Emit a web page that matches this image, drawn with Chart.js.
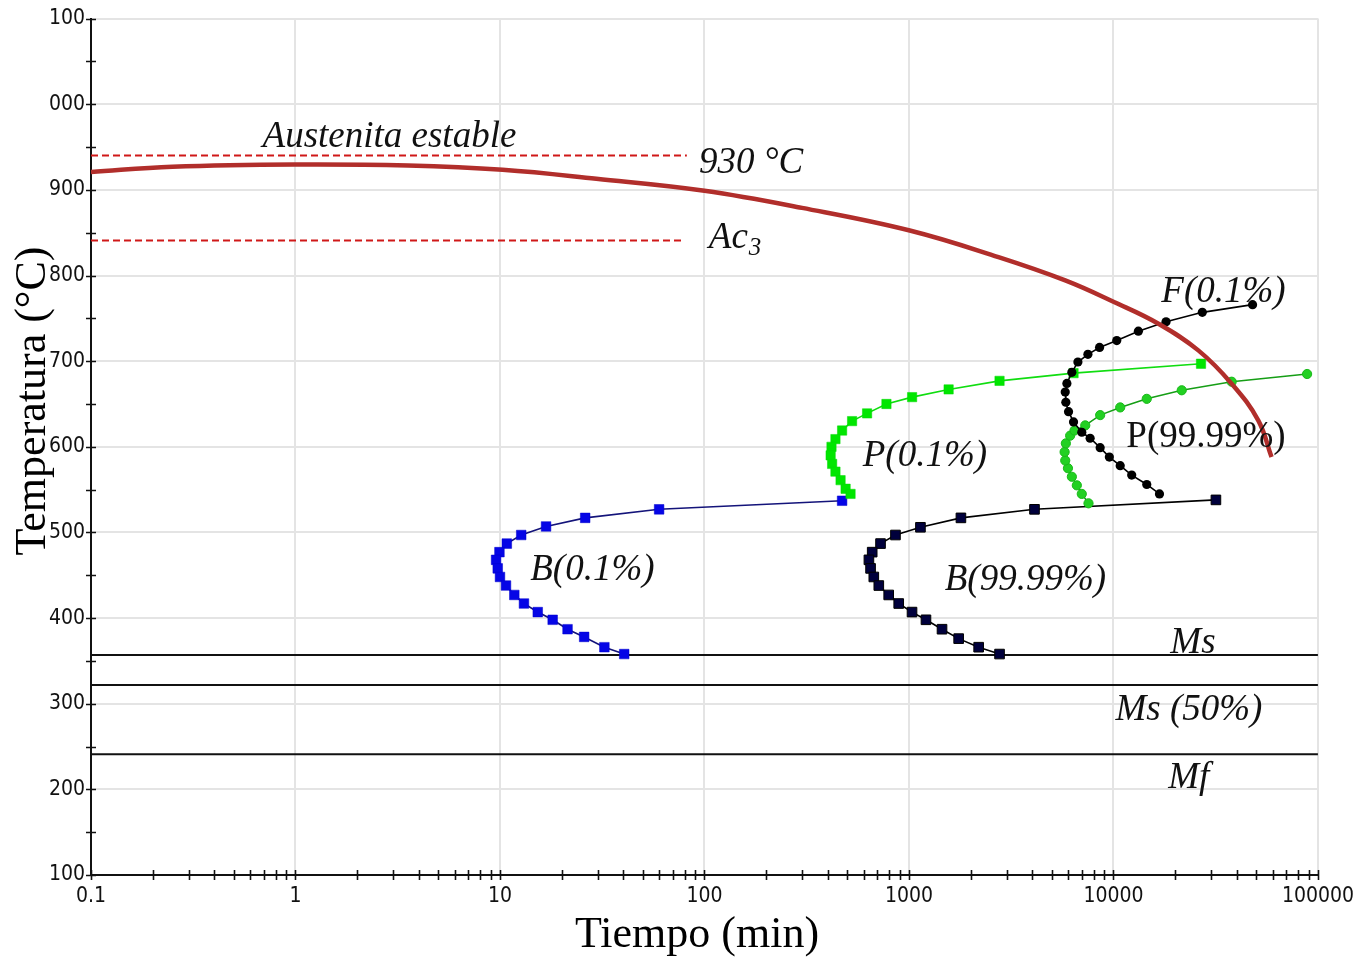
<!DOCTYPE html>
<html><head><meta charset="utf-8">
<script src="https://cdn.jsdelivr.net/npm/chart.js@4/dist/chart.umd.min.js"></script>
<style>html,body{margin:0;padding:0;background:#fff;}#wrap{width:1363px;height:958px;position:relative;}</style>
</head><body><div id="wrap"><canvas id="c" width="1363" height="958"></canvas></div>
<script>
// ---- axis ticks ----
const xTickValues = [0.1, 1, 10, 100, 1000, 10000, 100000];
const xTickLabels = ['0.1', '1', '10', '100', '1000', '10000', '100000'];
const yTickValues = [100, 200, 300, 400, 500, 600, 700, 800, 900, 1000, 1100];
const yTickLabels = ['100', '200', '300', '400', '500', '600', '700', '800', '900', '000', '100'];

// ---- heating / austenitization curve (red) ----
const heatTime = [0.1, 0.25, 0.99, 3.55, 10.3, 29.6, 100, 300, 1009, 2740, 5810, 10120, 16600, 26000, 37840, 51050, 59300];
const heatTemp = [921, 927, 929.7, 928.5, 923.5, 913, 899, 879, 852.6, 821.5, 794.3, 768.8, 743.7, 712.6, 673.7, 630.9, 588];

// ---- reference lines ----
const lineT930 = 940, lineT930End = 82;
const lineAc3 = 841, lineAc3End = 79;
const msTemp = 357, ms50Temp = 322, mfTemp = 241;

// ---- ferrite start F(0.1%) ----
const f01Time = [47900, 27200, 18080, 13240, 10380, 8550, 7500, 6700, 6260, 5920, 5810, 5850, 6030, 6380, 7000, 7690, 8610, 9550, 10790, 12280, 14550, 16790];
const f01Temp = [766, 757, 746, 735, 724, 716, 708, 699, 687, 674, 664, 652, 641, 629, 617, 610, 599, 588, 578, 567, 556, 545];

// ---- pearlite start P(0.1%) ----
const p01Time = [26800, 6380, 2773, 1563, 1036, 776, 624, 527, 471, 437, 418, 414, 421, 437, 463, 490, 518];
const p01Temp = [697, 686, 677, 667, 658, 650, 639, 630, 619, 609, 600, 590, 580, 571, 561, 551, 545];

// ---- pearlite finish P(99.99%) ----
const p99Time = [7550, 7000, 6620, 6260, 5990, 5810, 5770, 5850, 6140, 6450, 7280, 8610, 10790, 14550, 21570, 37850, 88500];
const p99Temp = [534, 545, 555, 565, 575, 584, 594, 604, 613, 619, 625, 637, 646, 656, 666, 676, 685];

// ---- bainite start B(0.1%) ----
const b01Time = [471, 60, 26.1, 16.8, 12.7, 10.8, 9.94, 9.57, 9.75, 10.0, 10.7, 11.75, 13.1, 15.3, 18.1, 21.4, 25.8, 32.4, 40.5];
const b01Temp = [537, 527, 517, 507, 497, 487, 477, 468, 458, 448, 438, 427, 417, 407, 398, 387, 378, 366, 358];

// ---- bainite finish B(99.99%) ----
const b99Time = [31700, 4110, 1795, 1138, 859, 726, 661, 637, 649, 673, 712, 796, 891, 1035, 1211, 1451, 1750, 2192, 2773];
const b99Temp = [538, 527, 517, 506, 497, 487, 477, 468, 458, 448, 438, 427, 417, 407, 398, 387, 376, 366, 358];

// ---- annotation labels (anchored in data coordinates: left / baseline) ----
const labelTexts = ['Austenita estable', '930 °C', 'F(0.1%)', 'P(0.1%)', 'P(99.99%)', 'B(0.1%)', 'B(99.99%)', 'Ms', 'Ms (50%)', 'Mf'];
const labelTime  = [0.69, 94, 17140, 594, 11560, 14.06, 1496, 18970, 10230, 18530];
const labelTemp  = [950, 920, 768.6, 577, 599.4, 444.2, 432.6, 359, 280.9, 201.5];
const labelItalic = [true, true, true, true, false, true, true, true, true, true];
const ac3Label = {time: 105, temp: 832};

const pts = (xs, ys) => xs.map((v, i) => ({x: v, y: ys[i]}));

const hline = (t, x0, x1) => [{x: x0, y: t}, {x: x1, y: t}];

const datasets = [
  {label: 'Calentamiento', data: pts(heatTime, heatTemp), borderColor: '#b12e2b', borderWidth: 4.5, pointRadius: 0, tension: 0.4},
  {label: 'F(0.1%)', data: pts(f01Time, f01Temp), borderColor: '#000', borderWidth: 1.6, pointStyle: 'circle', pointRadius: 4.6, pointBackgroundColor: '#000', pointBorderColor: '#000', pointBorderWidth: 0},
  {label: 'P(99.99%)', data: pts(p99Time, p99Temp), borderColor: '#169e16', borderWidth: 1.6, pointStyle: 'circle', pointRadius: 4.6, pointBackgroundColor: '#22d022', pointBorderColor: '#18b818', pointBorderWidth: 1},
  {label: 'P(0.1%)', data: pts(p01Time, p01Temp), borderColor: '#10dd10', borderWidth: 1.6, pointStyle: 'rect', pointRadius: 6.6, pointBackgroundColor: '#00e600', pointBorderColor: '#00d800', pointBorderWidth: 0.5},
  {label: 'B(99.99%)', data: pts(b99Time, b99Temp), borderColor: '#000', borderWidth: 1.6, pointStyle: 'rect', pointRadius: 6.8, pointBackgroundColor: '#00003c', pointBorderColor: '#000', pointBorderWidth: 1},
  {label: 'B(0.1%)', data: pts(b01Time, b01Temp), borderColor: '#14147a', borderWidth: 1.6, pointStyle: 'rect', pointRadius: 6.8, pointBackgroundColor: '#0505e6', pointBorderColor: '#0000cc', pointBorderWidth: 0.5},
  {label: '930', data: hline(lineT930, 0.1, lineT930End), borderColor: '#d01818', borderWidth: 2, borderDash: [7, 4], pointRadius: 0},
  {label: 'Ac3', data: hline(lineAc3, 0.1, lineAc3End), borderColor: '#d01818', borderWidth: 2, borderDash: [7, 4], pointRadius: 0},
  {label: 'Ms', data: hline(msTemp, 0.1, 100000), borderColor: '#111', borderWidth: 2, pointRadius: 0},
  {label: 'Ms50', data: hline(ms50Temp, 0.1, 100000), borderColor: '#111', borderWidth: 2, pointRadius: 0},
  {label: 'Mf', data: hline(mfTemp, 0.1, 100000), borderColor: '#111', borderWidth: 2, pointRadius: 0}
];

const overlay = {
  id: 'overlay',
  afterDraw(chart) {
    const {ctx, scales: {x, y}, chartArea: a} = chart;
    ctx.save();
    // tick marks crossing axes
    ctx.strokeStyle = '#111'; ctx.lineWidth = 1.6;
    ctx.beginPath();
    for (let v = 100; v <= 1100; v += 50) {
      const py = Math.round(y.getPixelForValue(v)) + 0.5;
      ctx.moveTo(a.left - 5, py); ctx.lineTo(a.left + 5, py);
    }
    for (let e = -1; e < 5; e++) {
      for (let m = 1; m <= 10; m++) {
        const px = Math.round(x.getPixelForValue(m * Math.pow(10, e))) + 0.5;
        ctx.moveTo(px, a.bottom - 5); ctx.lineTo(px, a.bottom + 5);
      }
    }
    ctx.stroke();
    // annotation labels
    ctx.fillStyle = '#111';
    ctx.textAlign = 'left'; ctx.textBaseline = 'alphabetic';
    labelTexts.forEach((t, i) => {
      ctx.font = (labelItalic[i] ? 'italic ' : '') + '37px "Liberation Serif", "Times New Roman", serif';
      ctx.fillText(t, x.getPixelForValue(labelTime[i]), y.getPixelForValue(labelTemp[i]));
    });
    const ax = x.getPixelForValue(ac3Label.time), ay = y.getPixelForValue(ac3Label.temp);
    ctx.font = 'italic 37px "Liberation Serif", serif';
    ctx.fillText('Ac', ax, ay);
    const w = ctx.measureText('Ac').width;
    ctx.font = 'italic 25px "Liberation Serif", serif';
    ctx.fillText('3', ax + w + 1, ay + 7);
    // axis titles
    ctx.font = '44px "Liberation Serif", "Times New Roman", serif';
    ctx.textAlign = 'center'; ctx.textBaseline = 'middle';
    ctx.fillStyle = '#000';
    ctx.fillText('Tiempo (min)', 697, 935);
    ctx.translate(33, 401); ctx.rotate(-Math.PI / 2);
    ctx.fillText('Temperatura (°C)', 0, 0);
    ctx.restore();
  }
};

const tickFont = {family: '"Liberation Sans Narrow", "DejaVu Sans Condensed", "Liberation Sans", sans-serif', size: 21};

new Chart(document.getElementById('c'), {
  type: 'line',
  data: {datasets},
  options: {
    responsive: false, animation: false, devicePixelRatio: 1,
    layout: {padding: {left: 0, right: 43, top: 18, bottom: 0}},
    plugins: {legend: {display: false}, tooltip: {enabled: false}},
    elements: {line: {tension: 0}},
    scales: {
      x: {
        type: 'logarithmic', min: 0.1, max: 100000,
        afterBuildTicks: s => { s.ticks = xTickValues.map(v => ({value: v})); },
        afterFit: s => { s.height = 83; },
        grid: {color: '#e4e4e4', lineWidth: 2, drawTicks: false},
        border: {display: true, color: '#111', width: 2},
        ticks: {font: tickFont, color: '#111', padding: 9, maxRotation: 0, autoSkip: false,
          callback: (v, i) => xTickLabels[i]}
      },
      y: {
        type: 'linear', min: 100, max: 1100,
        afterBuildTicks: s => { s.ticks = yTickValues.map(v => ({value: v})); },
        afterFit: s => { s.width = 91; },
        grid: {color: '#e4e4e4', lineWidth: 2, drawTicks: false},
        border: {display: true, color: '#111', width: 2},
        ticks: {font: tickFont, color: '#111', padding: 6, autoSkip: false,
          callback: (v, i) => yTickLabels[i]}
      }
    }
  },
  plugins: [overlay]
});
</script></body></html>
